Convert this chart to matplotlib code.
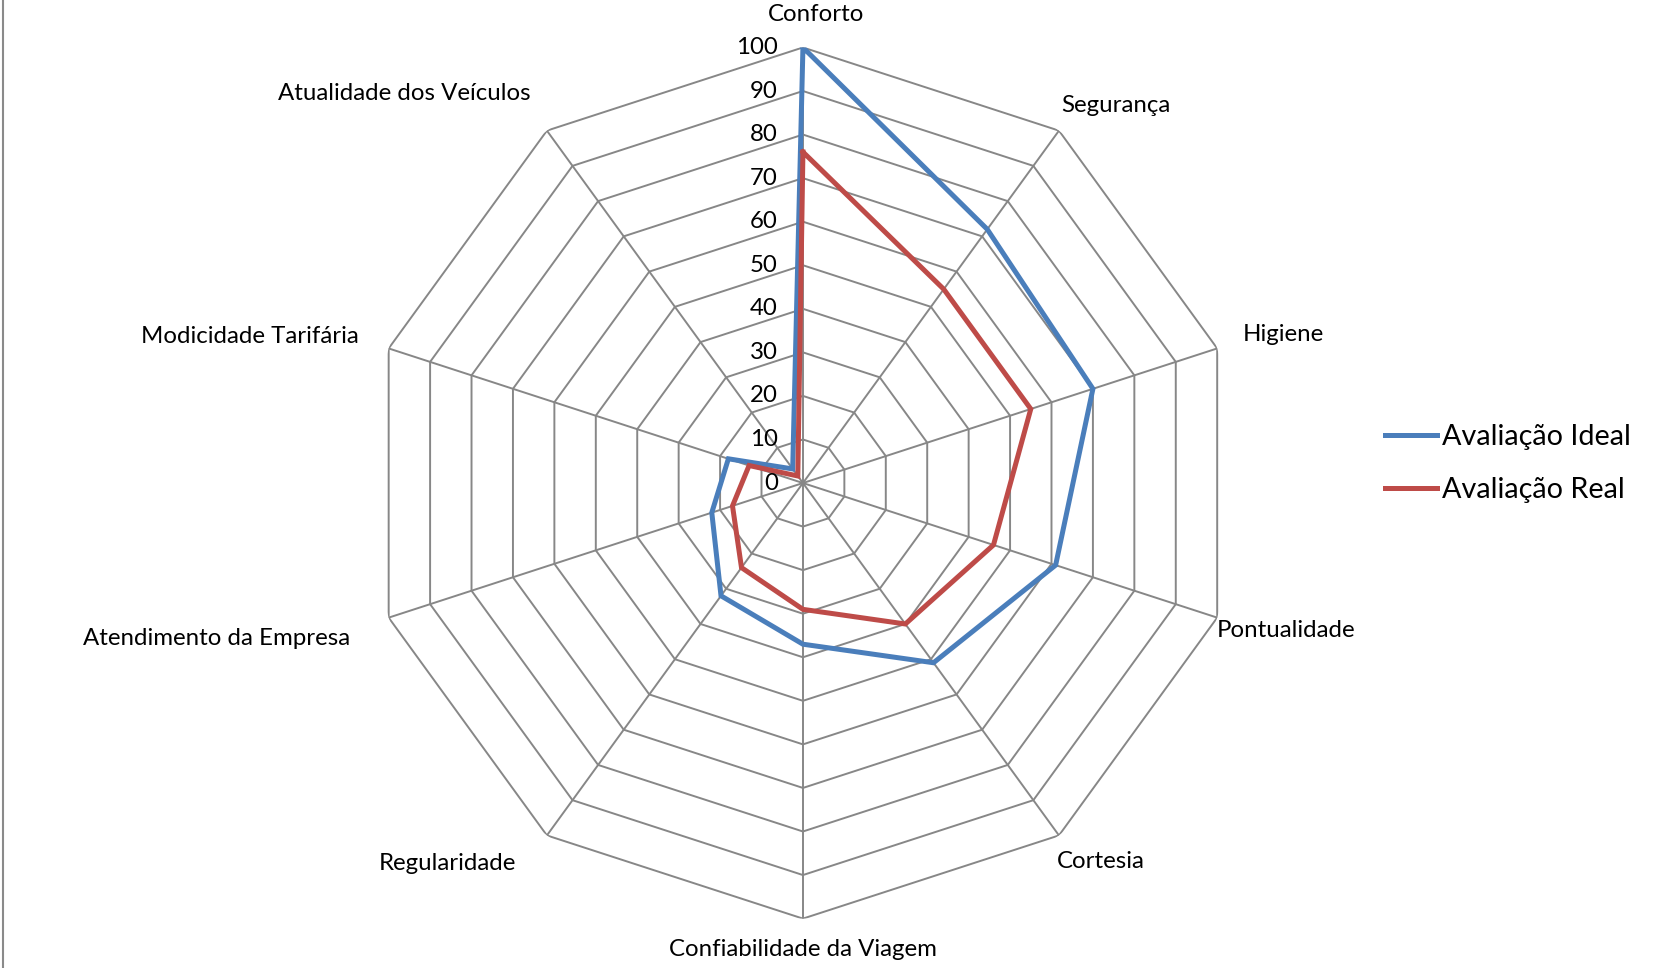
import numpy as np
import matplotlib
matplotlib.use('Agg')
import matplotlib.pyplot as plt
from matplotlib.lines import Line2D

plt.rcParams['font.family'] = ['Lato', 'DejaVu Sans']

categorias = ['Conforto', 'Segurança', 'Higiene', 'Pontualidade', 'Cortesia',
              'Confiabilidade da Viagem', 'Regularidade', 'Atendimento da Empresa',
              'Modicidade Tarifária', 'Atualidade dos Veículos']
ideal = [100, 72, 70, 61, 51, 37, 32, 22, 18, 4]
real = [76, 55, 55, 46, 40, 29, 24, 17, 13, 2]
aneis = [0, 10, 20, 30, 40, 50, 60, 70, 80, 90, 100]

cor_ideal = '#4A7EBB'
cor_real = '#BE4B48'
cor_grade = '#878787'

n = len(categorias)
ang = np.linspace(0, 2 * np.pi, n, endpoint=False)
ang_f = np.append(ang, ang[0])

fig = plt.figure(figsize=(16.54, 9.68), dpi=100)
ax = fig.add_axes([0.2221, 0.051, 0.5267, 0.9], projection='polar')
ax.set_theta_zero_location('N')
ax.set_theta_direction(-1)
ax.set_ylim(0, 100)
ax.set_xticks([])
ax.set_yticks([])
ax.grid(False)
ax.spines['polar'].set_visible(False)
ax.patch.set_visible(False)

# grade poligonal
for r in aneis[1:]:
    ax.plot(ang_f, [r] * (n + 1), color=cor_grade, lw=1.4, zorder=1)
for a in ang:
    ax.plot([a, a], [0, 100], color=cor_grade, lw=1.4, zorder=1)

ax.plot(ang_f, ideal + ideal[:1], color=cor_ideal, lw=3.6, zorder=3,
        label='Avaliação Ideal', solid_joinstyle='miter')
ax.plot(ang_f, real + real[:1], color=cor_real, lw=3.6, zorder=3,
        label='Avaliação Real', solid_joinstyle='miter')

# rótulos do eixo radial
for r in aneis:
    ax.annotate(str(r), xy=(0, r), xytext=(-25, 0), textcoords='offset pixels',
                ha='right', va='center', fontsize=17.3, color='black')

# rótulos das categorias
desloc = [(13, 33, 'center'), (2, 25, 'left'), (26, 14, 'left'), (0, -13, 'left'),
          (-2, -26, 'left'), (0, -31, 'center'), (-31, -28, 'right'),
          (-39, -21, 'right'), (-30, 12, 'right'), (-16, 37, 'right')]
for a, nome, (dx, dy, ha) in zip(ang, categorias, desloc):
    ax.annotate(nome, xy=(a, 100), xytext=(dx, dy), textcoords='offset pixels',
                ha=ha, va='center', fontsize=17.3, color='black')

fig.legend(loc='center left', bbox_to_anchor=(0.822, 0.521), frameon=False,
           fontsize=20.7, handlelength=1.8, handletextpad=0.17, labelspacing=0.95)

fig.add_artist(Line2D([0.002, 0.002], [0, 1], transform=fig.transFigure,
                      color='#8a8a8a', lw=1.5))

fig.savefig('out.png', dpi=100)
